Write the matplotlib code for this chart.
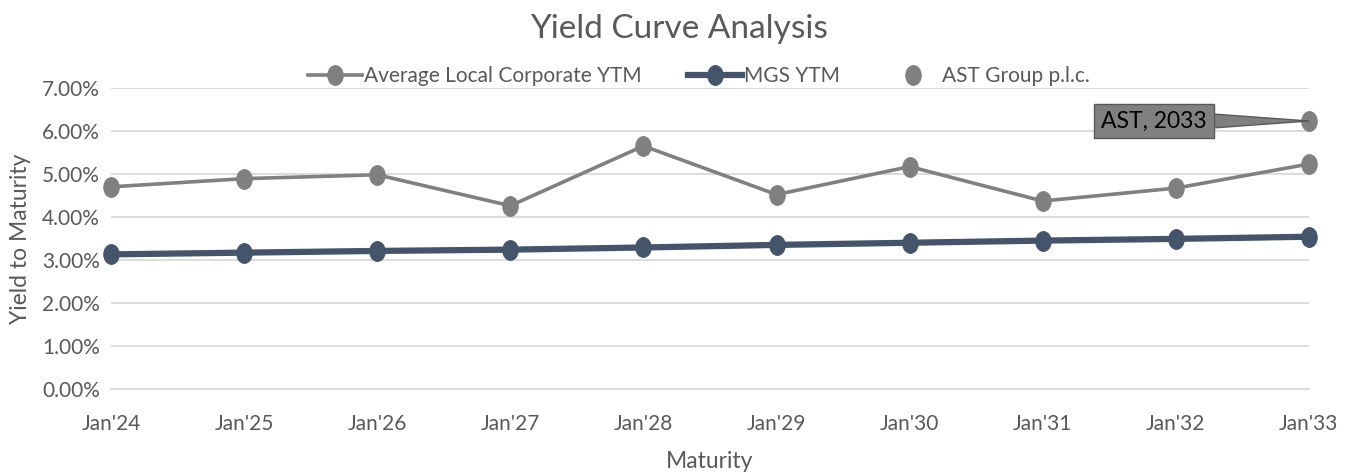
import matplotlib.pyplot as plt
from matplotlib.path import Path
from matplotlib.transforms import Affine2D
from matplotlib.ticker import PercentFormatter

# data
maturity = ["Jan'24", "Jan'25", "Jan'26", "Jan'27", "Jan'28",
            "Jan'29", "Jan'30", "Jan'31", "Jan'32", "Jan'33"]
corp_ytm = [4.70, 4.89, 4.98, 4.26, 5.65, 4.52, 5.17, 4.37, 4.67, 5.23]
mgs_ytm = [3.13, 3.17, 3.21, 3.24, 3.29, 3.35, 3.40, 3.45, 3.49, 3.54]
ast_x = ["Jan'33"]
ast_ytm = [6.23]
ast_label = "AST, 2033"

plt.rcParams['font.family'] = ['Lato', 'DejaVu Sans']

# the markers in the picture are a bit taller than wide
oval = Path.unit_circle().transformed(Affine2D().scale(0.78, 1.0))

fig = plt.figure(figsize=(13.57, 4.75), dpi=100)
ax = fig.add_axes([0.0818, 0.181, 0.8828, 0.634])

xs = list(range(len(maturity)))
ax.plot(xs, corp_ytm, color='#808080', lw=2.6, marker=oval, ms=14,
        label='Average Local Corporate YTM', clip_on=False, zorder=3)
ax.plot(xs, mgs_ytm, color='#44546A', lw=4.5, marker=oval, ms=14,
        label='MGS YTM', clip_on=False, zorder=4)
ast_pos = [maturity.index(m) for m in ast_x]
ax.plot(ast_pos, ast_ytm, ls='none', color='#808080', marker=oval, ms=14,
        label='AST Group p.l.c.', clip_on=False, zorder=4)

ax.annotate(ast_label, xy=(ast_pos[0], ast_ytm[0]), xytext=(1154, 354),
            textcoords='figure pixels', ha='center', va='center',
            fontsize=16.5, color='black',
            bbox=dict(boxstyle='square,pad=0.3', fc='#808080', ec='#595959', lw=1),
            arrowprops=dict(arrowstyle='wedge,tail_width=0.6,shrink_factor=0.5',
                            fc='#808080', ec='#595959', lw=1,
                            shrinkA=0, shrinkB=0),
            zorder=5)

ax.set_xlim(0, len(maturity) - 1)
ax.set_ylim(0, 7)
ax.set_xticks(xs)
ax.set_xticklabels(maturity)
ax.set_yticks([0, 1, 2, 3, 4, 5, 6, 7])
ax.yaxis.set_major_formatter(PercentFormatter(decimals=2))
ax.grid(axis='y', color='#D9D9D9', lw=1.3)
ax.set_axisbelow(True)
for s in ['top', 'right', 'left']:
    ax.spines[s].set_visible(False)
ax.spines['bottom'].set_color('#D9D9D9')
ax.spines['bottom'].set_linewidth(1.3)
ax.tick_params(axis='x', length=0, labelsize=15, colors='#595959', pad=18)
ax.tick_params(axis='y', length=0, labelsize=15, colors='#595959', pad=8)

ax.set_xlabel('Maturity', fontsize=16.5, color='#595959', labelpad=12)
ax.set_ylabel('Yield to Maturity', fontsize=16.5, color='#595959', labelpad=8)
fig.suptitle('Yield Curve Analysis', fontsize=24, color='#595959', y=0.97)

fig.legend(loc='center', bbox_to_anchor=(0.515, 0.84), ncol=3, frameon=False,
           fontsize=15, labelcolor='#595959', handlelength=2.6,
           handletextpad=0.1, columnspacing=2.2)

fig.savefig('out.png', dpi=100)
